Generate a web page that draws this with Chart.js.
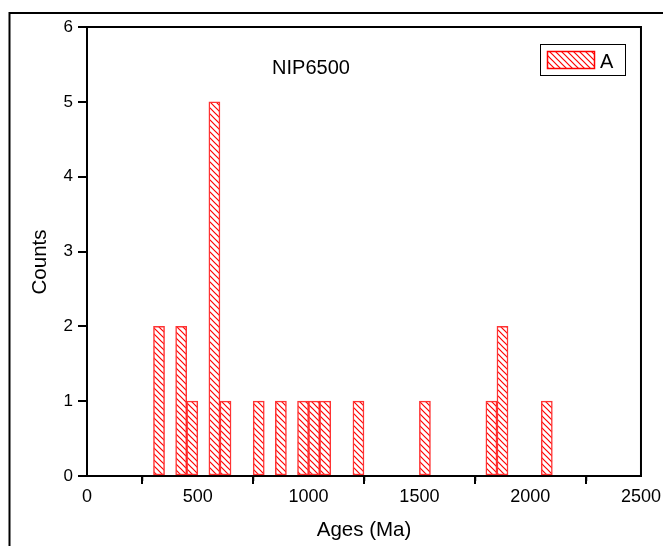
<!DOCTYPE html>
<html>
<head>
<meta charset="utf-8">
<script src="https://cdn.jsdelivr.net/npm/chart.js@4"></script>
<style>
html,body{margin:0;padding:0;background:#fff;}
#wrap{width:663px;height:546px;position:relative;}
</style>
</head>
<body>
<div id="wrap"><canvas id="c" width="663" height="546"></canvas></div>
<script>
// Data: age bins (centers, Ma) of a 50 Ma histogram and their counts
const binCenters = [325, 425, 475, 575, 625, 775, 875, 975, 1025, 1075, 1225, 1525, 1825, 1875, 2075];
const counts     = [2,   2,   1,   5,   1,   1,   1,   1,   1,    1,    1,    1,    1,    2,    1];
const seriesName = 'A';
const chartTitle = 'NIP6500';
const xTitle = 'Ages (Ma)';
const yTitle = 'Counts';
const xMajorTicks = [0, 500, 1000, 1500, 2000, 2500];
const xMinorTicks = [250, 750, 1250, 1750, 2250];
const yTicks = [0, 1, 2, 3, 4, 5, 6];

const FONT = 'Liberation Sans, Arial, sans-serif';
const RED = 'rgb(255,0,0)';
Chart.defaults.font.family = FONT;
Chart.defaults.font.size = 16;
Chart.defaults.color = '#000';

function makeHatch() {
  const s = 6;
  const cv = document.createElement('canvas');
  cv.width = s; cv.height = s;
  const g = cv.getContext('2d');
  g.fillStyle = '#fff';
  g.fillRect(0, 0, s, s);
  g.strokeStyle = RED;
  g.lineWidth = 1.2;
  g.beginPath();
  g.moveTo(-1, -1); g.lineTo(s + 1, s + 1);
  g.moveTo(s - 1, -1); g.lineTo(s + 1, 1);
  g.moveTo(-1, s - 1); g.lineTo(1, s + 1);
  g.stroke();
  return g.createPattern(cv, 'repeat');
}
const ctx0 = document.getElementById('c').getContext('2d');
const hatch = makeHatch();

const decor = {
  id: 'decor',
  afterDraw(chart) {
    const c = chart.ctx;
    const a = chart.chartArea;
    const xs = chart.scales.x;
    c.save();
    // outer frame
    c.strokeStyle = '#000';
    c.lineWidth = 2;
    c.beginPath();
    c.moveTo(9.5, 560); c.lineTo(9.5, 13); c.lineTo(680, 13);
    c.stroke();
    // plot top and right lines
    c.lineWidth = 2;
    c.beginPath();
    c.moveTo(a.left, a.top); c.lineTo(a.right, a.top); c.lineTo(a.right, a.bottom);
    c.stroke();
    // minor x ticks
    c.lineWidth = 1.5;
    c.beginPath();
    xMinorTicks.forEach(v => {
      const px = Math.round(xs.getPixelForValue(v)) + 0.5;
      c.moveTo(px, a.bottom); c.lineTo(px, a.bottom + 5);
    });
    c.stroke();
    // title inside plot
    c.fillStyle = '#000';
    c.font = '20px ' + FONT;
    c.textAlign = 'center';
    c.textBaseline = 'alphabetic';
    c.fillText(chartTitle, 311, 74);
    // axis titles
    c.font = '20.5px ' + FONT;
    c.fillText(xTitle, (a.left + a.right) / 2, 536);
    c.save();
    c.translate(46, 262);
    c.rotate(-Math.PI / 2);
    c.fillText(yTitle, 0, 0);
    c.restore();
    // legend
    c.lineWidth = 1;
    c.strokeStyle = '#000';
    c.strokeRect(540.5, 44.5, 85, 31);
    c.fillStyle = hatch;
    c.fillRect(547, 51, 48, 18);
    c.strokeStyle = RED;
    c.lineWidth = 1.5;
    c.strokeRect(547.5, 51.5, 47, 17);
    c.fillStyle = '#000';
    c.font = '20px ' + FONT;
    c.textAlign = 'left';
    c.fillText(seriesName, 600, 68);
    c.restore();
  }
};

new Chart(ctx0, {
  type: 'bar',
  data: {
    datasets: [{
      label: seriesName,
      data: binCenters.map((x, i) => ({x: x, y: counts[i]})),
      backgroundColor: hatch,
      borderColor: 'rgba(255,0,0,0.8)',
      borderWidth: 1.5,
      borderSkipped: false,
      categoryPercentage: 1.0,
      barPercentage: 1.0
    }]
  },
  options: {
    responsive: false,
    animation: false,
    layout: {padding: {top: 27, right: 21, left: 0, bottom: 0}},
    plugins: {legend: {display: false}, tooltip: {enabled: false}},
    scales: {
      x: {
        type: 'linear',
        min: 0, max: 2500,
        offset: false,
        afterBuildTicks: s => { s.ticks = xMajorTicks.map(v => ({value: v})); },
        afterFit: s => { s.height = 70; },
        grid: {drawOnChartArea: false, drawTicks: true, tickLength: 8, color: '#000', lineWidth: 2},
        border: {display: true, color: '#000', width: 2},
        ticks: {color: '#000', font: {family: FONT, size: 18}, padding: 2, maxRotation: 0,
                callback: v => String(v)}
      },
      y: {
        type: 'linear',
        min: 0, max: 6,
        afterBuildTicks: s => { s.ticks = yTicks.map(v => ({value: v})); },
        afterFit: s => { s.width = 87; },
        grid: {drawOnChartArea: false, drawTicks: true, tickLength: 9, color: '#000', lineWidth: 2},
        border: {display: true, color: '#000', width: 2},
        ticks: {color: '#000', font: {family: FONT, size: 17}, padding: 5,
                callback: v => String(v)}
      }
    }
  },
  plugins: [decor]
});
</script>
</body>
</html>
